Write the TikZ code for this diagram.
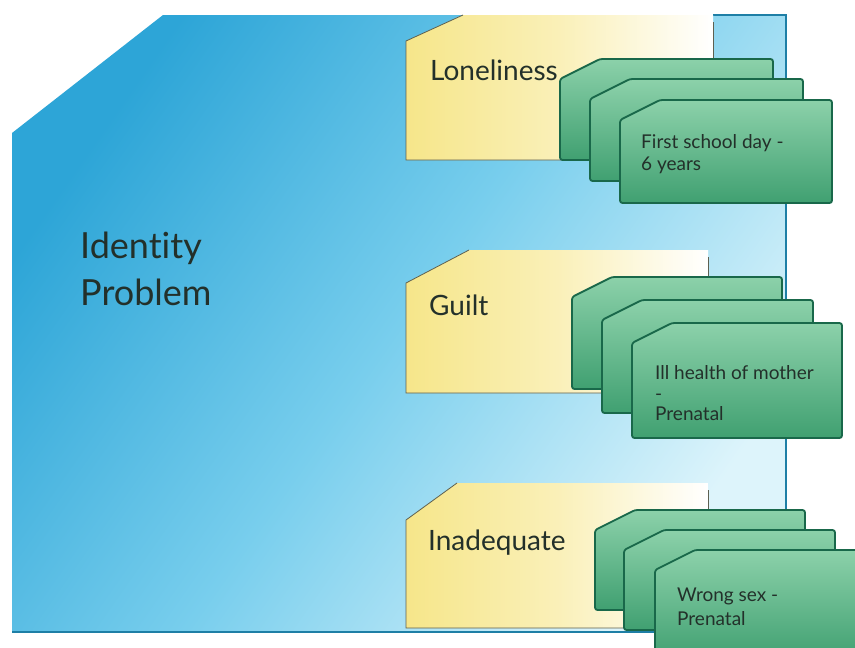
\documentclass[tikz,border=0pt]{standalone}
\usepackage{fontspec}
\setmainfont{Lato}[Ligatures=NoCommon]
\definecolor{skyA}{HTML}{2DA5D7}
\definecolor{skyM}{HTML}{78CEED}
\definecolor{skyB}{HTML}{DDF4FB}
\definecolor{skyEdge}{HTML}{1E7FA6}
\definecolor{paleY}{HTML}{F6E68A}
\definecolor{paleYM}{HTML}{FAF0B8}
\definecolor{yEdge}{HTML}{5E6050}
\definecolor{leafT}{HTML}{8CD1AA}
\definecolor{leafB}{HTML}{40A071}
\definecolor{leafEdge}{HTML}{19684A}
\definecolor{ink}{HTML}{23302A}
\tikzset{
  panel/.style={left color=skyA, right color=skyB, middle color=skyM, shading angle=55},
  tab/.style={left color=paleY, right color=white, middle color=paleYM},
  taboutline/.style={draw=yEdge, line width=0.8pt},
  card/.style={top color=leafT, bottom color=leafB, draw=leafEdge, line width=1.8pt, rounded corners=2.5pt},
  heading/.style={font=\fontsize{36}{42}\selectfont, text=ink, inner sep=0pt, anchor=base west},
  tablabel/.style={font=\fontsize{28}{32}\selectfont, text=ink, inner sep=0pt, anchor=base west},
  cardlabel/.style={font=\fontsize{19}{22}\selectfont, text=ink, inner sep=0pt, anchor=base west},
}
% a chamfered green card: left, top, width, height
\newcommand\leafcard[4]{%
  \draw[card] (#1,#2+20) -- (#1+40,#2) -- (#1+#3,#2) -- (#1+#3,#2+#4) -- (#1,#2+#4) -- cycle;}
% a yellow tab: left, top, right, bottom, chamfer dx, chamfer dy
\newcommand\yellowtab[6]{%
  \shade[tab] (#1,#2+#6) -- (#1+#5,#2) -- (#3,#2) -- (#3,#4) -- (#1,#4) -- cycle;
  \draw[taboutline] (#1+#5,#2) -- (#1,#2+#6) -- (#1,#4) -- (#3,#4);
  \draw[taboutline] (#3,#2+7) -- (#3,#4);}
\begin{document}
\begin{tikzpicture}[x=1pt,y=-1pt]
\useasboundingbox (0,0) rectangle (855,648);
\clip (0,0) rectangle (855,648);
\fill[white] (0,0) rectangle (855,648);

% main panel
\shade[panel] (12,133) -- (163,15) -- (786,15) -- (786,632) -- (12,632) -- cycle;
\draw[skyEdge, line width=1.3pt] (713,15) -- (786,15) -- (786,632) -- (12,632);

% yellow tabs
\yellowtab{406}{15}{713}{160}{57}{26}
\yellowtab{406}{250}{708}{393}{63}{33}
\yellowtab{406}{483}{708}{628}{51}{37}

% green card stacks
\leafcard{560}{59}{213}{101}
\leafcard{590}{79}{213}{102}
\leafcard{620}{100}{212}{103}

\leafcard{572}{277}{210}{112}
\leafcard{602}{300}{211}{113}
\leafcard{632}{323}{210}{115}

\leafcard{595}{510}{210}{100}
\leafcard{624}{530}{211}{100}
\leafcard{655}{550}{212}{110}

% texts
\node[heading] (id1) at (80,258) {Identity};
\node[heading] (id2) at (80,305) {Problem};

\node[tablabel] (lon) at (430,80) {Loneliness};
\node[tablabel] (gui) at (429,315) {Guilt};
\node[tablabel] (ina) at (428,550) {Inadequate};

\node[cardlabel] (c1a) at (641,148) {First school day -};
\node[cardlabel] (c1b) at (641,170) {6 years};

\node[cardlabel] (c2a) at (655,379) {Ill health of mother};
\node[cardlabel] (c2b) at (655,400) {-};
\node[cardlabel] (c2c) at (655,420) {Prenatal};

\node[cardlabel] (c3a) at (677,601) {Wrong sex -};
\node[cardlabel] (c3b) at (677,625) {Prenatal};
\end{tikzpicture}
\end{document}
